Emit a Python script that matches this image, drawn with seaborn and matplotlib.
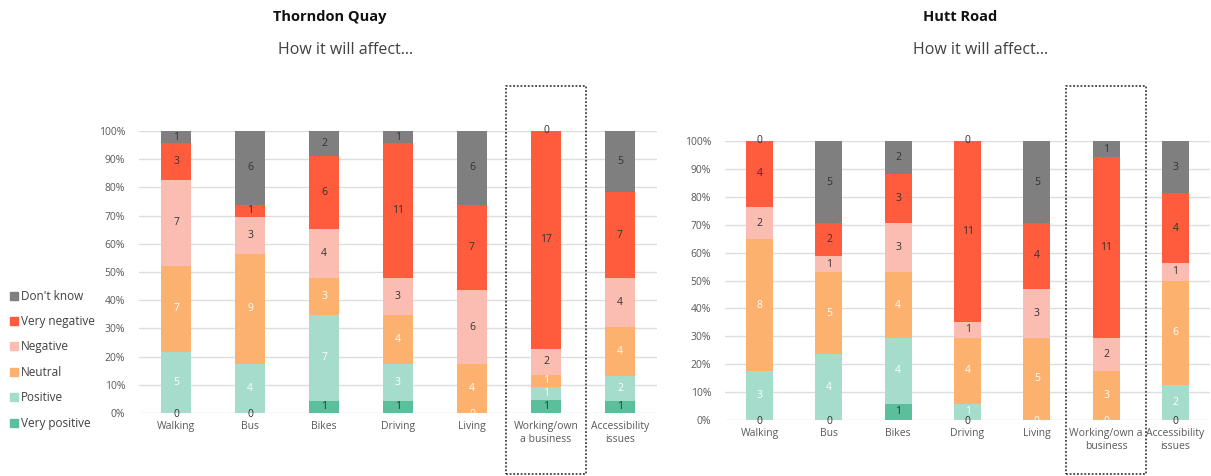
import numpy as np
import pandas as pd
import matplotlib.pyplot as plt
import matplotlib.transforms as mtransforms
from matplotlib.patches import Rectangle
from matplotlib.lines import Line2D
import seaborn as sns

# ── Data ──────────────────────────────────────────────────────────────────
levels = ['Very positive', 'Positive', 'Neutral', 'Negative', 'Very negative', "Don't know"]
colors = ['#5cbf9b', '#a5dccb', '#fdb16f', '#fbbdb1', '#ff5b3d', '#7f7f7f']
text_colors = ['#333333', 'white', 'white', '#333333', '#333333', '#333333']

cats_tq = ['Walking', 'Bus', 'Bikes', 'Driving', 'Living', 'Working/own\na business', 'Accessibility\nissues']
cats_hr = ['Walking', 'Bus', 'Bikes', 'Driving', 'Living', 'Working/own a\nbusiness', 'Accessibility\nissues']

# counts per category, one list per response level (nan = no label shown)
tq_very_pos = [0, 0, 1, 1, np.nan, 1, 1]
tq_pos      = [5, 4, 7, 3, 0, 1, 2]
tq_neutral  = [7, 9, 3, 4, 4, 1, 4]
tq_neg      = [7, 3, 4, 3, 6, 2, 4]
tq_very_neg = [3, 1, 6, 11, 7, 17, 7]
tq_dk       = [1, 6, 2, 1, 6, 0, 5]

hr_very_pos = [0, 0, 1, 0, np.nan, np.nan, 0]
hr_pos      = [3, 4, 4, 1, 0, 0, 2]
hr_neutral  = [8, 5, 4, 4, 5, 3, 6]
hr_neg      = [2, 1, 3, 1, 3, 2, 1]
hr_very_neg = [4, 2, 3, 11, 4, 11, 4]
hr_dk       = [0, 5, 2, 0, 5, 1, 3]

sns.set_style('white')
plt.rcParams['font.family'] = ['Open Sans', 'DejaVu Sans']

fig = plt.figure(figsize=(12.11, 4.76), dpi=100)
ax1 = fig.add_axes([0.1148, 0.1324, 0.4277, 0.5924])
ax2 = fig.add_axes([0.5987, 0.1176, 0.4005, 0.5862])


def draw_panel(ax, cats, series, width):
    counts = np.array(series, dtype=float)            # levels x cats
    filled = np.nan_to_num(counts)
    totals = filled.sum(axis=0)
    pct = filled / totals * 100
    cum = np.cumsum(pct, axis=0)
    # draw cumulative bars from the top layer down so each hides the rest
    for i in reversed(range(len(levels))):
        df = pd.DataFrame({'cat': range(len(cats)), 'val': cum[i]})
        sns.barplot(data=df, x='cat', y='val', color=colors[i], width=width,
                    saturation=1, ax=ax, zorder=2, native_scale=True,
                    linewidth=0, edgecolor=colors[i])
    # value labels
    for i in range(len(levels)):
        for j in range(len(cats)):
            if np.isnan(counts[i, j]):
                continue
            y = cum[i, j] - pct[i, j] / 2
            # zero counts at the base sit a touch under the axis line
            dy = -0.6 if (counts[i, j] == 0 and y < 1) else 0
            ax.text(j, y + dy, f'{int(counts[i, j])}', ha='center', va='center',
                    fontsize=7.5, color=text_colors[i], zorder=3)
    ax.set_xlim(-0.5, len(cats) - 0.5)
    ax.set_ylim(0, 100)
    ax.set_yticks(range(0, 101, 10))
    ax.set_yticklabels([f'{v}%' for v in range(0, 101, 10)])
    ax.set_xticks(range(len(cats)))
    ax.set_xticklabels(cats)
    ax.set_xlabel('')
    ax.set_ylabel('')
    ax.grid(axis='y', color='#dddddd', linewidth=1, zorder=0)
    ax.set_axisbelow(True)
    for s in ax.spines.values():
        s.set_visible(False)
    ax.tick_params(axis='both', labelsize=7.5, colors='#595959', length=0)
    ax.tick_params(axis='y', pad=10)
    ax.tick_params(axis='x', pad=6)


draw_panel(ax1, cats_tq, [tq_very_pos, tq_pos, tq_neutral, tq_neg, tq_very_neg, tq_dk], 0.4)
draw_panel(ax2, cats_hr, [hr_very_pos, hr_pos, hr_neutral, hr_neg, hr_very_neg, hr_dk], 0.39)

# dotted boxes round the "Working/own a business" column
for ax, half in [(ax1, 0.54), (ax2, 0.58)]:
    trans = mtransforms.blended_transform_factory(ax.transData, fig.transFigure)
    box = Rectangle((5 - half, 0.005), 2 * half, 0.815, transform=trans,
                    fill=False, edgecolor='#222222', linestyle=(0, (1.2, 1.2)),
                    linewidth=1.1, clip_on=False, zorder=5)
    fig.add_artist(box)

# titles
fig.text(0.272, 0.965, 'Thorndon Quay', ha='center', va='center',
         fontsize=10.5, fontweight='bold', color='#111111')
fig.text(0.285, 0.895, 'How it will affect...', ha='center', va='center',
         fontsize=11.5, color='#404040')
fig.text(0.793, 0.965, 'Hutt Road', ha='center', va='center',
         fontsize=10.5, fontweight='bold', color='#111111')
fig.text(0.81, 0.895, 'How it will affect...', ha='center', va='center',
         fontsize=11.5, color='#404040')

# legend
handles = [Line2D([0], [0], marker='s', linestyle='', markersize=5.5,
                  markerfacecolor=colors[i], markeredgecolor=colors[i],
                  label=levels[i]) for i in reversed(range(len(levels)))]
fig.legend(handles=handles, loc='lower left', bbox_to_anchor=(0.0, 0.08),
           frameon=False, fontsize=8.5, labelcolor='#404040', handletextpad=0.1,
           labelspacing=1.05, handlelength=1.0, borderaxespad=0.3)

fig.savefig('out.png', dpi=100)
